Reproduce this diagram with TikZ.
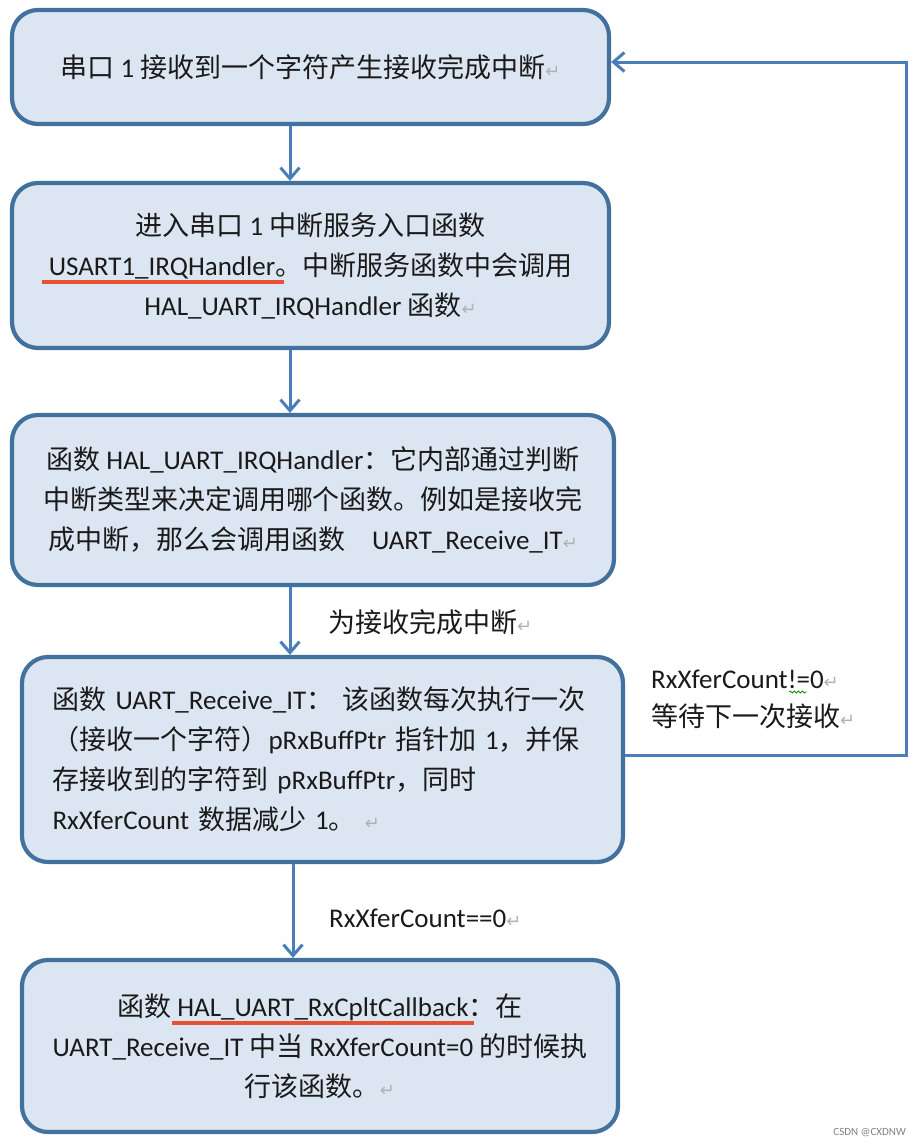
\documentclass[tikz,border=0pt]{standalone}
\usepackage{fontspec}
\setmainfont{Carlito}
\newfontfamily\cjk{Noto Sans CJK SC}
\newfontfamily\latf{Carlito}
\newfontfamily\dejavu{DejaVu Sans}
\usetikzlibrary{arrows.meta,decorations.pathmorphing}
\definecolor{boxfill}{HTML}{DCE6F2}
\definecolor{boxline}{HTML}{41719C}
\definecolor{arrblue}{HTML}{4A7EBB}
\definecolor{ulred}{HTML}{E8512F}
\definecolor{txt}{HTML}{1A1A1A}
\newcommand\la[1]{{\latf #1}}
\newcommand\parmark{{\dejavu\fontsize{18}{18}\selectfont\color{gray!60}↵}}
\newsavebox\ulbox
\newcommand\redul[3]{\sbox\ulbox{#3}\rlap{\kern-#1\textcolor{ulred}{\rule[-9pt]{\dimexpr\wd\ulbox+#1+#2\relax}{4.5pt}}}\usebox\ulbox}
\tikzset{
  flow/.style={draw=boxline, line width=4.2pt, fill=boxfill, rounded corners=26pt,
    font=\cjk\fontsize{27}{40}\selectfont, text=txt, inner sep=0pt},
  lbl/.style={font=\cjk\fontsize{27}{32}\selectfont, text=txt, inner sep=0pt},
  arr/.style={draw=arrblue, line width=3pt, -{Straight Barb[length=11pt,width=19pt]}}
}
\begin{document}
\begin{tikzpicture}[x=1pt,y=-1pt]
\useasboundingbox[fill=white] (0,0) rectangle (916,1146);
\node[flow, minimum width=597pt, minimum height=114pt, align=center] (b1) at (310.5,67)
  {串口 \la{1} 接收到一个字符产生接收完成中断\parmark};
\node[flow, minimum width=597pt, minimum height=165pt, align=center] (b2) at (310.5,265.5)
  {进入串口 \la{1} 中断服务入口函数\\ \redul{7pt}{9pt}{\la{USART1\_IRQHandler}}。中断服务函数中会调用\\ \la{HAL\_UART\_IRQHandler} 函数\parmark};
\node[flow, minimum width=602pt, minimum height=170pt, align=center] (b3) at (313,500)
  {函数 \la{HAL\_UART\_IRQHandler}：它内部通过判断\\ 中断类型来决定调用哪个函数。例如是接收完\\ 成中断，那么会调用函数\quad\la{UART\_Receive\_IT}\parmark};
\node[flow, minimum width=601pt, minimum height=205pt, text width=540pt, align=left] (b4) at (322.5,759.5)
  {函数 \la{UART\_Receive\_IT}： 该函数每次执行一次\\ （接收一个字符）\la{pRxBuffPtr} 指针加 \la{1}，并保\\ 存接收到的字符到 \la{pRxBuffPtr}，同时\\ \la{RxXferCount} 数据减少 \la{1}。 \parmark};
\node[flow, minimum width=596pt, minimum height=172pt, align=center] (b5) at (320,1046)
  {函数 \redul{5pt}{5pt}{\la{HAL\_UART\_RxCpltCallback}}：在\\ \la{UART\_Receive\_IT} 中当 \la{RxXferCount=0} 的时候执\\ 行该函数。\parmark};
\node[lbl, anchor=west] (l1) at (328,622) {为接收完成中断\parmark};
\node[lbl, anchor=west] (l2) at (651,679) {\la{RxXferCount!=0}\parmark};
\node[lbl, anchor=west] (l3) at (651,716) {等待下一次接收\parmark};
\node[lbl, anchor=west] (l4) at (329,918) {\la{RxXferCount==0}\parmark};
\node[font=\latf\fontsize{11}{11}\selectfont, text=gray, anchor=east, inner sep=0pt] (wm) at (906,1133) {CSDN @CXDNW};
\draw[green!60!black, line width=0.8pt, decorate, decoration={snake, amplitude=1pt, segment length=4pt}] (789,692) -- (807,692);
\coordinate (ax) at (290,0);
\coordinate (ax2) at (293,0);
\coordinate (rx) at (906,0);
\draw[arr] (b1.south -| ax) -- (b2.north -| ax);
\draw[arr] (b2.south -| ax) -- (b3.north -| ax);
\draw[arr] (b3.south -| ax) -- (b4.north -| ax);
\draw[arr] (b4.south -| ax2) -- (b5.north -| ax2);
\draw[arr] ([yshift=4pt]b4.east) -- ([yshift=4pt]b4.east -| rx) |- ([yshift=5pt]b1.east);
\end{tikzpicture}
\end{document}
